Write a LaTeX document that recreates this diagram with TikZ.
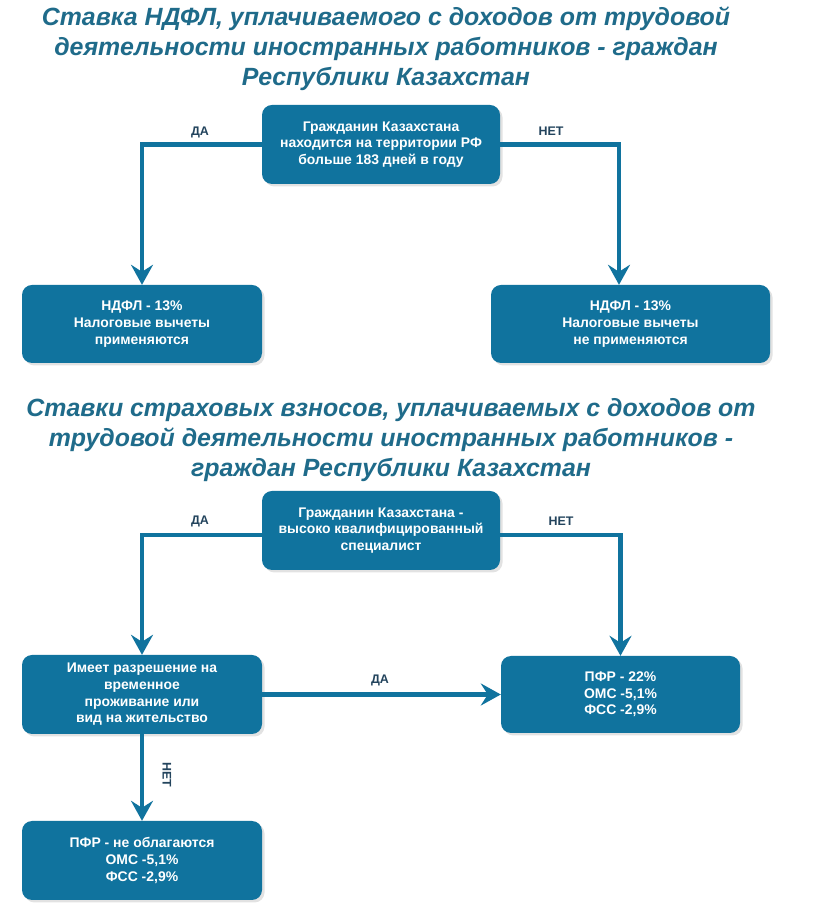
\documentclass[tikz,border=0pt]{standalone}
\usepackage{fontspec}
\setmainfont{Liberation Sans}
\usetikzlibrary{arrows.meta,shadows}
\definecolor{boxblue}{HTML}{10739E}
\definecolor{titleblue}{HTML}{1F6B8A}
\definecolor{labelblue}{HTML}{23445D}
\tikzset{
  rulebox/.style={fill=boxblue,rounded corners=10bp,text=white,inner sep=0pt,
    font=\fontsize{14}{16.7}\selectfont\bfseries,align=center,
    drop shadow={shadow xshift=2.5bp,shadow yshift=-2.5bp,fill=black!22}},
  answer/.style={font=\fontsize{12.5}{15}\selectfont\bfseries,text=labelblue,inner sep=0pt},
  heading/.style={font=\fontsize{25}{30}\selectfont\bfseries\itshape,text=titleblue,align=center,inner sep=0pt},
  flow/.style={draw=boxblue,line width=4.5bp,-{Stealth[length=20bp,width=22bp,inset=7bp]}},
}
\begin{document}
\begin{tikzpicture}[line join=miter,]
\useasboundingbox [fill=white] (0bp,0bp) rectangle (826bp,918bp);
%%
\node (title_ndfl) at (386bp,869bp) [heading] {Ставка НДФЛ, уплачиваемого с доходов от трудовой\\деятельности иностранных работников - граждан\\Республики Казахстан};
  \node (title_vznos) at (391bp,478bp) [heading] {Ставки страховых взносов, уплачиваемых с доходов от\\трудовой деятельности иностранных работников -\\граждан Республики Казахстан};
%
\node (node_q1) at (381bp,773.5bp) [rulebox,minimum width=238bp,minimum height=79bp] {Гражданин Казахстана\\находится на территории РФ\\больше 183 дней в году};
  \node (node_a1) at (142bp,594bp) [rulebox,minimum width=240bp,minimum height=78bp] {НДФЛ - 13\%\\Налоговые вычеты\\применяются};
  \node (node_b1) at (630.5bp,594bp) [rulebox,minimum width=279bp,minimum height=78bp] {НДФЛ - 13\%\\Налоговые вычеты\\не применяются};
  \node (label_da1) at (200bp,786bp) [answer] {ДА};
  \node (label_net1) at (551bp,787bp) [answer] {НЕТ};
  \draw [flow] (node_q1.west) -| (node_a1.north);
  \draw [flow] (node_q1.east) -| ([xshift=-11.5bp]node_b1.north);
%
\node (node_q2) at (381bp,387.5bp) [rulebox,minimum width=238bp,minimum height=79bp] {Гражданин Казахстана -\\высоко квалифицированный\\специалист};
  \node (node_p) at (142bp,223.5bp) [rulebox,minimum width=240bp,minimum height=79bp] {Имеет разрешение на\\временное\\проживание или\\вид на жительство};
  \node (node_r) at (620.5bp,223.5bp) [rulebox,minimum width=239bp,minimum height=77bp] {ПФР - 22\%\\ОМС -5,1\%\\ФСС -2,9\%};
  \node (node_n) at (142bp,57.5bp) [rulebox,minimum width=240bp,minimum height=79bp] {ПФР - не облагаются\\ОМС -5,1\%\\ФСС -2,9\%};
  \node (label_da2) at (200bp,397bp) [answer] {ДА};
  \node (label_net2) at (561bp,397bp) [answer] {НЕТ};
  \node (label_da3) at (380bp,238bp) [answer] {ДА};
  \node (label_net3) at (167bp,143bp) [answer,rotate=-90] {НЕТ};
  \draw [flow] ([yshift=-4.5bp]node_q2.west) -| (node_p.north);
  \draw [flow] ([yshift=-4.5bp]node_q2.east) -| (node_r.north);
  \draw [flow] (node_p) -- (node_r);
  \draw [flow] (node_p) -- (node_n);
%
\end{tikzpicture}
\end{document}
